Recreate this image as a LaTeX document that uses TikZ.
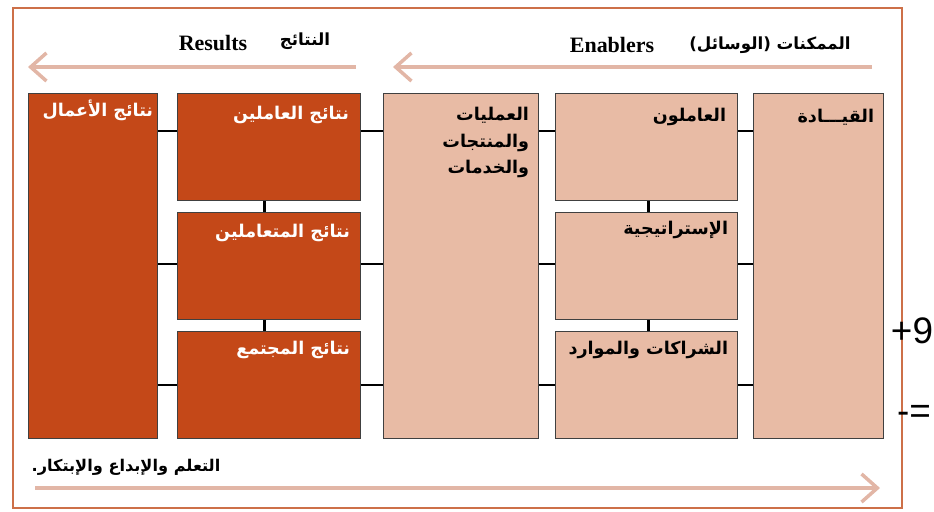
\documentclass[tikz,border=0pt]{standalone}
\usepackage{fontspec}
\usepackage{tikz}
\usepackage{xcolor}
\usetikzlibrary{arrows.meta}
\setmainfont{Liberation Serif}
\newfontfamily\arabicfont[Script=Arabic]{DejaVu Sans}
\newfontfamily\digitfont{Liberation Sans}
\TeXXeTstate=1
\newcommand\pxl{0.02cm}
\definecolor{resultfill}{RGB}{196,72,24}
\definecolor{enablerfill}{RGB}{232,187,165}
\definecolor{arrowpink}{RGB}{226,182,166}
\definecolor{framecol}{RGB}{205,112,72}

\begin{document}
\begin{tikzpicture}[x=0.02cm,y=-0.02cm,
  res/.style={draw=black!75,fill=resultfill,line width=0.8pt,anchor=north west,inner sep=0pt},
  ena/.style={draw=black!75,fill=enablerfill,line width=0.8pt,anchor=north west,inner sep=0pt},
  rlabel/.style={anchor=east,inner sep=0pt,text=white,font=\arabicfont\bfseries\fontsize{10}{12}\selectfont},
  elabel/.style={anchor=east,inner sep=0pt,text=black,font=\arabicfont\bfseries\fontsize{10}{12}\selectfont},
  link/.style={line width=1.5pt},
  flow/.style={draw=arrowpink,line width=2.2pt,-{Straight Barb[length=9pt,width=16pt,line width=2pt]}}]
\useasboundingbox (0,0) rectangle (934,511);
\draw[framecol,line width=1.1pt] (13,8) rectangle (902,508);

\node[res,minimum width=129*\pxl,minimum height=345*\pxl] (bus) at (28,93) {};
\node[res,minimum width=183*\pxl,minimum height=107*\pxl] (ppl) at (177,93) {};
\node[res,minimum width=183*\pxl,minimum height=107*\pxl] (cust) at (177,212) {};
\node[res,minimum width=183*\pxl,minimum height=107*\pxl] (soc) at (177,331) {};
\node[ena,minimum width=155*\pxl,minimum height=345*\pxl] (proc) at (383,93) {};
\node[ena,minimum width=182*\pxl,minimum height=107*\pxl] (staff) at (555,93) {};
\node[ena,minimum width=182*\pxl,minimum height=107*\pxl] (strat) at (555,212) {};
\node[ena,minimum width=182*\pxl,minimum height=107*\pxl] (part) at (555,331) {};
\node[ena,minimum width=130*\pxl,minimum height=345*\pxl] (lead) at (753,93) {};

\node[rlabel] (busT) at ([shift={(-5,17)}]bus.north east) {\beginR نتائج الأعمال\endR};
\node[rlabel] (pplT) at ([shift={(-12,22)}]ppl.north east) {\beginR نتائج العاملين\endR};
\node[rlabel] (custT) at ([shift={(-11,21)}]cust.north east) {\beginR نتائج المتعاملين\endR};
\node[rlabel] (socT) at ([shift={(-11,19)}]soc.north east) {\beginR نتائج المجتمع\endR};
\node[elabel,anchor=north east,align=right] (procT) at ([shift={(-10,14)}]proc.north east)
  {\beginR العمليات\endR\\[3pt]\beginR والمنتجات\endR\\[3pt]\beginR والخدمات\endR};
\node[elabel] (staffT) at ([shift={(-12,24)}]staff.north east) {\beginR العاملون\endR};
\node[elabel] (stratT) at ([shift={(-10,18)}]strat.north east) {\beginR الإستراتيجية\endR};
\node[elabel] (partT) at ([shift={(-10,19)}]part.north east) {\beginR الشراكات والموارد\endR};
\node[elabel] (leadT) at ([shift={(-10,24)}]lead.north east) {\beginR القيـــادة\endR};

\coordinate (row1) at (0,131);
\coordinate (row2) at (0,264);
\coordinate (row3) at (0,385);
\foreach \a/\b/\r in {bus/ppl/row1,bus/cust/row2,bus/soc/row3,
  ppl/proc/row1,cust/proc/row2,soc/proc/row3,
  proc/staff/row1,proc/strat/row2,proc/part/row3,
  staff/lead/row1,strat/lead/row2,part/lead/row3}
  \draw[link] (\a.east |- \r) -- (\b.west |- \r);
\draw[link] ([xshift=-5*\pxl]ppl.south) -- ([xshift=-5*\pxl]cust.north);
\draw[link] ([xshift=-5*\pxl]cust.south) -- ([xshift=-5*\pxl]soc.north);
\draw[link] ([xshift=2*\pxl]staff.south) -- ([xshift=2*\pxl]strat.north);
\draw[link] ([xshift=2*\pxl]strat.south) -- ([xshift=2*\pxl]part.north);

\coordinate (resS) at (356,67);
\coordinate (resE) at (28,67);
\coordinate (enaS) at (872,67);
\coordinate (enaE) at (393,67);
\coordinate (lrnS) at (35,488);
\coordinate (lrnE) at (880,488);
\draw[flow] (resS) -- (resE);
\draw[flow] (enaS) -- (enaE);
\draw[flow] (lrnS) -- (lrnE);

\node[font=\bfseries\fontsize{12.5}{14}\selectfont] (resTitle) at (213,43) {Results};
\node[font=\arabicfont\bfseries\fontsize{9.5}{12}\selectfont] (resAr) at (305,41) {\beginR النتائج\endR};
\node[font=\bfseries\fontsize{12.5}{14}\selectfont] (enaTitle) at (612,45) {Enablers};
\node[font=\arabicfont\bfseries\fontsize{9.5}{12}\selectfont] (enaAr) at (770,45) {\beginR الممكنات (الوسائل)\endR};
\node[font=\arabicfont\bfseries\fontsize{9.2}{12}\selectfont] (learn) at (126,467) {\beginR التعلم والإبداع والإبتكار.\endR};

\node[font=\digitfont\fontsize{21}{23}\selectfont] (plusNine) at (912,331) {+9};
\node[font=\digitfont\fontsize{21}{23}\selectfont] (minusEq) at (914,414) {-=};
\end{tikzpicture}
\end{document}
